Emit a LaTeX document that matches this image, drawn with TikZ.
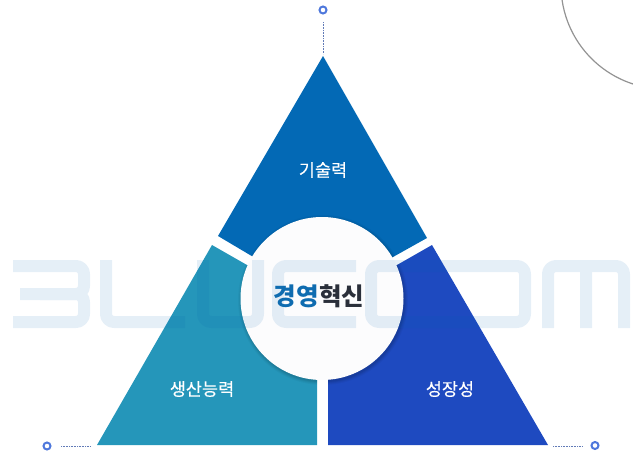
\documentclass[tikz,border=0pt]{standalone}
\usepackage{fontspec}
\setmainfont{Noto Sans CJK KR}
\newfontfamily\labfont[FakeBold=0.25]{Noto Sans CJK KR}
\definecolor{topblue}{HTML}{0369B5}
\definecolor{leftblue}{HTML}{2596BA}
\definecolor{rightblue}{HTML}{1E4AC0}
\definecolor{ringblue}{HTML}{4F78DC}
\definecolor{wmark}{HTML}{0060B0}
\definecolor{kwblue}{HTML}{0F6CB0}
\definecolor{kwdark}{HTML}{2A2F3A}
\definecolor{hubfill}{HTML}{FCFCFD}
\tikzset{
  ring/.style={circle,draw=ringblue,line width=2pt,fill=white,minimum size=7pt,inner sep=0pt},
  dots/.style={draw=ringblue!60!gray,line width=.9pt,dash pattern=on .8pt off .8pt},
  lab/.style={text=white,font=\labfont\fontsize{17.5}{19}\selectfont,inner sep=0pt},
  wm/.style={draw=wmark,line width=12pt,line cap=butt,line join=round,rounded corners=8pt},
  hub/.style={circle,fill=hubfill,minimum size=163pt,inner sep=0pt}
}
\newcommand{\toppiece}{(323,56) -- (427,238) -- (393,257) -- (322,298) -- (250,255) -- (218,236) -- cycle}
\newcommand{\leftpiece}{(97,445) -- (212,245) -- (247,265) -- (322,298) -- (317,380) -- (317,445) -- cycle}
\newcommand{\rightpiece}{(548,445) -- (432,245) -- (397,265) -- (322,298) -- (328,380) -- (328,445) -- cycle}
\newcommand{\hubshadow}{\foreach \r/\o in {85/.03,84/.04,83/.05,82/.06}{\fill[black,opacity=\o] (323,300) circle[radius=\r];}}
\begin{document}
\begin{tikzpicture}[x=1pt,y=-1pt]
\useasboundingbox (0,0) rectangle (633,453);
\clip (0,0) rectangle (633,453);
% triangle pieces
\fill[topblue] \toppiece;
\fill[leftblue] \leftpiece;
\fill[rightblue] \rightpiece;
\begin{scope}\clip \toppiece; \hubshadow \end{scope}
\begin{scope}\clip \leftpiece; \hubshadow \end{scope}
\begin{scope}\clip \rightpiece; \hubshadow \end{scope}
\node[hub] (hub) at (322,298.5) {};
% watermark
\begin{scope}[transparency group,opacity=.1]
\draw[wm] (13,266) -- (84,266) -- (84,294) -- (20,294);
\draw[wm] (40,294) -- (84,294) -- (84,322) -- (13,322);
\draw[wm] (106,260) -- (106,322) -- (185,322);
\draw[wm] (203,260) -- (203,322) -- (258,322) -- (258,260);
\draw[wm] (356,266) -- (278,266) -- (278,322) -- (356,322);
\draw[wm] (371,294) -- (371,266) -- (525,266) -- (525,322) -- (371,322) -- cycle;
\draw[wm] (548,328) -- (548,266) -- (624,266) -- (624,328);
\draw[wm,rounded corners=0pt] (586,266) -- (586,328);
\end{scope}
\node[inner sep=0pt,font=\fontsize{24.5}{27}\selectfont\bfseries] (title) at (319,296) {\textcolor{kwblue}{경영}\textcolor{kwdark}{혁신}};
% labels
\node[lab] (a) at (323,170) {기술력};
\node[lab] (b) at (202,389) {생산능력};
\node[lab] (c) at (450,389) {성장성};
% end marks
\node[ring] (rt) at (323,10) {};
\node[ring] (rl) at (47,446) {};
\node[ring] (rr) at (595,445.5) {};
\coordinate (tt) at (323,54);
\coordinate (tl) at (91,446);
\coordinate (tr) at (553,446);
\draw[dots] (rt) ++(0,12) -- (tt);
\draw[dots] (rl) ++(14,0) -- (tl);
\draw[dots] (tr) -- ++(30,0);
% corner arc
\draw[gray!85,line width=1.2pt] (665,-15) circle[radius=104];
\end{tikzpicture}
\end{document}
